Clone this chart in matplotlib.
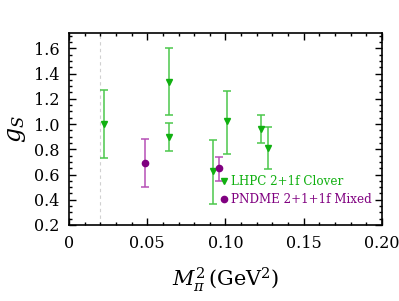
import numpy as np
import matplotlib
matplotlib.use("Agg")
import matplotlib.pyplot as plt
from matplotlib.ticker import MultipleLocator

plt.rcParams['font.family'] = ['DejaVu Serif']
plt.rcParams['mathtext.fontset'] = 'dejavuserif'

# LHPC 2+1f Clover
lhpc_x = [0.0224, 0.064, 0.064, 0.101, 0.123, 0.127, 0.092]
lhpc_y = [1.00, 1.335, 0.90, 1.02, 0.96, 0.81, 0.625]
lhpc_lo = [0.27, 0.265, 0.11, 0.255, 0.11, 0.165, 0.26]
lhpc_hi = [0.27, 0.265, 0.11, 0.245, 0.115, 0.17, 0.245]

# PNDME 2+1+1f Mixed
pndme_x = [0.0486, 0.096]
pndme_y = [0.69, 0.65]
pndme_lo = [0.19, 0.10]
pndme_hi = [0.19, 0.09]

labels = ["LHPC 2+1f Clover", "PNDME 2+1+1f Mixed"]

fig = plt.figure(figsize=(3.99, 3.01), dpi=100)
ax = fig.add_axes([0.173, 0.2525, 0.784, 0.6375])

ax.axvline(0.0198, color="#d0d0d0", lw=0.8, ls=(0, (3, 3)), zorder=0)

ax.errorbar(lhpc_x, lhpc_y, yerr=[lhpc_lo, lhpc_hi], fmt="none",
            ecolor="#4cc84c", elinewidth=1.1, capsize=3, capthick=1.1)
ax.plot(lhpc_x, lhpc_y, "v", color="#10b010", ms=5)
ax.errorbar(pndme_x, pndme_y, yerr=[pndme_lo, pndme_hi], fmt="none",
            ecolor="#b650b6", elinewidth=1.1, capsize=3, capthick=1.1)
ax.plot(pndme_x, pndme_y, "o", color="#800080", ms=4.5)

# legend drawn as markers + text
h1, = ax.plot([], [], "v", color="#10b010", ms=5)
h2, = ax.plot([], [], "o", color="#800080", ms=4.5)
leg = ax.legend([h1, h2], labels, loc="center left", bbox_to_anchor=(0.485, 0.18),
                frameon=False, handlelength=0.6, handletextpad=0.3,
                labelspacing=0.45, fontsize=8.6, borderpad=0, borderaxespad=0)
for t, c in zip(leg.get_texts(), ["#10b010", "#800080"]):
    t.set_color(c)

ax.set_xlim(0, 0.2)
ax.set_ylim(0.2, 1.72)
ax.xaxis.set_minor_locator(MultipleLocator(0.01))
ax.yaxis.set_minor_locator(MultipleLocator(0.05))
ax.set_xticks([0, 0.05, 0.1, 0.15, 0.2])
ax.set_xticklabels(["0", "0.05", "0.10", "0.15", "0.20"])
ax.set_yticks([0.2, 0.4, 0.6, 0.8, 1.0, 1.2, 1.4, 1.6])
ax.set_yticklabels(["0.2", "0.4", "0.6", "0.8", "1.0", "1.2", "1.4", "1.6"])
ax.tick_params(which="both", direction="in", top=True, right=True, labelsize=11.5, pad=7)
ax.tick_params(which="major", length=5, width=1)
ax.tick_params(which="minor", length=2.5, width=1)
for s in ax.spines.values():
    s.set_linewidth(1.2)

ax.set_xlabel(r"$M_\pi^2\,(\mathrm{GeV}^2)$", fontsize=15, labelpad=10)
ax.set_ylabel(r"$g_S$", fontsize=17, labelpad=4)

fig.savefig("out.png", dpi=100)
